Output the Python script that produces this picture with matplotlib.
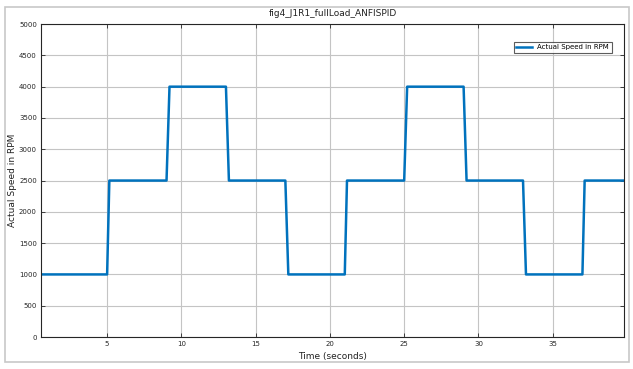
import matplotlib.pyplot as plt
from matplotlib.patches import Rectangle

# breakpoints of the speed trace (s, rpm)
time_s = [0.55, 5.0, 5.15, 9.0, 9.2, 13.0, 13.2, 17.0, 17.2, 21.0, 21.15,
          25.0, 25.2, 29.0, 29.2, 33.0, 33.2, 37.0, 37.15, 39.8]
speed_rpm = [1000, 1000, 2500, 2500, 4000, 4000, 2500, 2500, 1000, 1000, 2500,
             2500, 4000, 4000, 2500, 2500, 1000, 1000, 2500, 2500]

xticks = [5, 10, 15, 20, 25, 30, 35]
yticks = list(range(0, 5001, 500))

fig = plt.figure(figsize=(6.33, 3.69), dpi=100)
ax = fig.add_axes([0.0648, 0.0867, 0.921, 0.848])

ax.plot(time_s, speed_rpm, color='#0072BD', lw=1.8, label='Actual Speed in RPM')

ax.set_xlim(0.55, 39.8)
ax.set_ylim(0, 5000)
ax.set_xticks(xticks)
ax.set_yticks(yticks)
ax.tick_params(labelsize=5, direction='in', top=True, right=True,
               length=3, width=0.6, colors='#262626', pad=3)
ax.grid(True, color='#c4c4c4', lw=0.8)
ax.set_axisbelow(True)
for s in ax.spines.values():
    s.set_color('#262626')
    s.set_linewidth(0.8)

ax.set_title('fig4_J1R1_fullLoad_ANFISPID', fontsize=6.5, pad=6, color='#222222')
ax.set_xlabel('Time (seconds)', fontsize=6.5, labelpad=3.5, color='#222222')
ax.set_ylabel('Actual Speed in RPM', fontsize=6.5, color='#222222')
ax.yaxis.set_label_coords(-0.041, 0.5)

leg = ax.legend(loc='upper right', fontsize=5, frameon=True, fancybox=False,
                handlelength=2.2, borderpad=0.4, bbox_to_anchor=(0.985, 0.955))
leg.get_frame().set_edgecolor('#333333')
leg.get_frame().set_linewidth(0.8)

# outer window frame
fig.patches.append(Rectangle((0.008, 0.02), 0.985, 0.96, transform=fig.transFigure,
                             fill=False, edgecolor='#c8c8c8', lw=1.2))

fig.savefig('out.png', dpi=100)
